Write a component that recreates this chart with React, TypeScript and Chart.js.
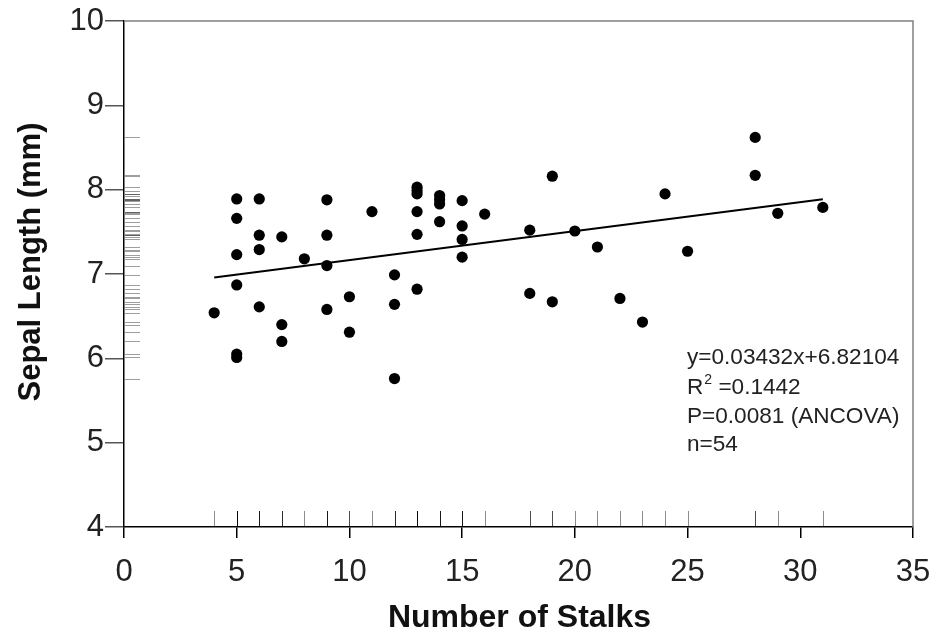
import React, { useEffect, useRef } from "react";
import { Chart, registerables } from "chart.js";

Chart.register(...registerables);

// Number of stalks (x) and sepal length in mm (y) for each plant
const stalks = [
  4,
  5, 5, 5, 5, 5, 5,
  6, 6, 6, 6,
  7, 7, 7,
  8,
  9, 9, 9, 9,
  10, 10,
  11,
  12, 12, 12,
  13, 13, 13, 13, 13, 13,
  14, 14, 14, 14,
  15, 15, 15, 15,
  16,
  18, 18,
  19, 19,
  20,
  21,
  22,
  23,
  24,
  25,
  28, 28,
  29,
  31,
];
const sepalLength = [
  6.54,
  7.89, 7.66, 7.23, 6.87, 6.05, 6.01,
  7.89, 7.46, 7.29, 6.61,
  7.44, 6.40, 6.20,
  7.18,
  7.88, 7.46, 7.10, 6.58,
  6.73, 6.31,
  7.74,
  6.99, 6.64, 5.76,
  8.03, 7.99, 7.95, 7.74, 7.47, 6.82,
  7.93, 7.88, 7.83, 7.62,
  7.87, 7.57, 7.41, 7.20,
  7.71,
  7.52, 6.77,
  8.16, 6.67,
  7.51,
  7.32,
  6.71,
  6.43,
  7.95,
  7.27,
  8.62, 8.17,
  7.72,
  7.79,
];

// Fitted regression line end points
const fitX = [4, 31];
const fitY = [6.958, 7.885];

const xTickValues = [0, 5, 10, 15, 20, 25, 30, 35];
const yTickValues = [4, 5, 6, 7, 8, 9, 10];

const xTitle = "Number of Stalks";
const yTitle = "Sepal Length (mm)";
const statLines = ["y=0.03432x+6.82104", "R2", "P=0.0081 (ANCOVA)", "n=54"];
const r2Value = "0.1442";

const FONT = "'Liberation Sans', Arial, sans-serif";

const decorPlugin = {
  id: "decor",
  afterDatasetsDraw(chart: any) {
    const { ctx, chartArea, scales } = chart;
    const xs = scales.x;
    const ys = scales.y;
    ctx.save();
    // rug on y
    ctx.strokeStyle = "rgba(0,0,0,0.38)";
    ctx.lineWidth = 1;
    sepalLength.forEach((v) => {
      const py = Math.round(ys.getPixelForValue(v)) + 0.5;
      ctx.beginPath();
      ctx.moveTo(chartArea.left + 1, py);
      ctx.lineTo(chartArea.left + 16, py);
      ctx.stroke();
    });
    // rug on x
    ctx.strokeStyle = "rgba(0,0,0,0.45)";
    stalks.forEach((v) => {
      const px = Math.round(xs.getPixelForValue(v)) + 0.5;
      ctx.beginPath();
      ctx.moveTo(px, chartArea.bottom);
      ctx.lineTo(px, chartArea.bottom - 16);
      ctx.stroke();
    });
    ctx.restore();
  },
  afterDraw(chart: any) {
    const { ctx, chartArea } = chart;
    ctx.save();
    // frame top and right
    ctx.strokeStyle = "#808080";
    ctx.lineWidth = 1.5;
    ctx.beginPath();
    ctx.moveTo(chartArea.left, chartArea.top);
    ctx.lineTo(chartArea.right, chartArea.top);
    ctx.lineTo(chartArea.right, chartArea.bottom);
    ctx.stroke();

    // axis titles
    ctx.fillStyle = "#111";
    ctx.textAlign = "center";
    ctx.textBaseline = "middle";
    ctx.font = `bold 32px ${FONT}`;
    ctx.fillText(xTitle, (chartArea.left + chartArea.right) / 2 + 1, 618);
    ctx.save();
    ctx.font = `bold 31px ${FONT}`;
    ctx.translate(31, 262);
    ctx.rotate(-Math.PI / 2);
    ctx.fillText(yTitle, 0, 0);
    ctx.restore();

    // stats annotation
    ctx.fillStyle = "#222";
    ctx.textAlign = "left";
    ctx.textBaseline = "middle";
    const fs = 22.6;
    const x0 = 687;
    const ys0 = [358, 388, 417, 445];
    statLines.forEach((t, i) => {
      if (t === "R2") {
        ctx.font = `${fs}px ${FONT}`;
        ctx.fillText("R", x0, ys0[i]);
        const wR = ctx.measureText("R").width;
        ctx.font = `14px ${FONT}`;
        ctx.fillText("2", x0 + wR + 1, ys0[i] - 8);
        const w2 = ctx.measureText("2").width;
        ctx.font = `${fs}px ${FONT}`;
        ctx.fillText(" =" + r2Value, x0 + wR + w2 + 1, ys0[i]);
      } else {
        ctx.font = `${fs}px ${FONT}`;
        ctx.fillText(t, x0, ys0[i]);
      }
    });
    ctx.restore();
  },
};

export default function App() {
  const ref = useRef<HTMLCanvasElement | null>(null);
  useEffect(() => {
    if (!ref.current) return;
    const chart = new Chart(ref.current, {
      type: "scatter",
      data: {
        datasets: [
          {
            type: "scatter",
            data: stalks.map((x, i) => ({ x, y: sepalLength[i] })),
            backgroundColor: "#000",
            borderColor: "#000",
            pointRadius: 5.6,
            pointBorderWidth: 0,
          },
          {
            type: "line",
            data: fitX.map((x, i) => ({ x, y: fitY[i] })),
            borderColor: "#000",
            borderWidth: 2,
            pointRadius: 0,
            fill: false,
          } as any,
        ],
      },
      options: {
        responsive: false,
        animation: false,
        layout: { padding: { top: 21, right: 22, left: 0, bottom: 0 } },
        plugins: {
          legend: { display: false },
          tooltip: { enabled: false },
        },
        scales: {
          x: {
            type: "linear",
            min: 0,
            max: 35,
            afterBuildTicks: (s: any) => {
              s.ticks = xTickValues.map((v) => ({ value: v }));
            },
            afterFit: (s: any) => {
              s.height = 110;
              s.paddingLeft = 0;
              s.paddingRight = 0;
            },
            ticks: {
              color: "#222",
              font: { family: FONT, size: 31 },
              padding: 16,
              maxRotation: 0,
              autoSkip: false,
            },
            grid: {
              drawOnChartArea: false,
              drawTicks: true,
              tickLength: 11,
              color: "#000",
              lineWidth: 1.5,
            },
            border: { display: true, color: "#000", width: 1.5 },
          },
          y: {
            type: "linear",
            min: 4,
            max: 10,
            afterBuildTicks: (s: any) => {
              s.ticks = yTickValues.map((v) => ({ value: v }));
            },
            afterFit: (s: any) => {
              s.width = 124;
              s.paddingTop = 0;
              s.paddingBottom = 0;
            },
            ticks: {
              color: "#222",
              font: { family: FONT, size: 31 },
              padding: 1,
              autoSkip: false,
            },
            grid: {
              drawOnChartArea: false,
              drawTicks: true,
              tickLength: 19,
              color: "#555",
              lineWidth: 1.5,
            },
            border: { display: true, color: "#000", width: 1.5 },
          },
        },
      },
      plugins: [decorPlugin],
    });
    return () => chart.destroy();
  }, []);
  return (
    <div style={{ position: "absolute", left: 0, top: 0, width: 935, height: 637, background: "#fff" }}>
      <canvas ref={ref} width={935} height={637} style={{ width: 935, height: 637, display: "block" }} />
    </div>
  );
}
